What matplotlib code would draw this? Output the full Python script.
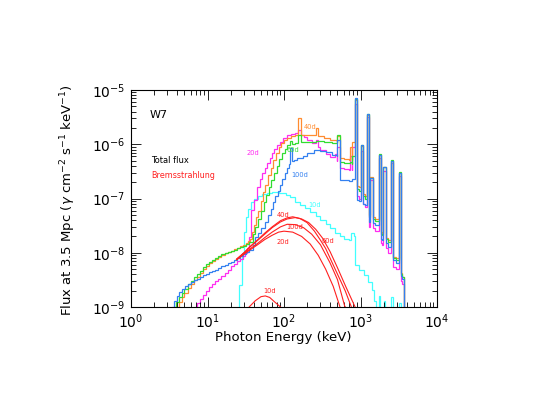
import matplotlib
matplotlib.use("Agg")
import matplotlib.pyplot as plt

plt.rcParams['font.family'] = ['DejaVu Sans']
plt.rcParams['mathtext.fontset'] = 'dejavusans'

# ---------------- data (energies in keV, flux in photons cm^-2 s^-1 keV^-1) -------------
# high-energy bin edges shared by the total-flux spectra (lines of 56Ni/56Co, 511 keV)
HE_EDGES = [490, 495, 535, 600, 700, 725, 775, 785, 835, 905, 950, 1000, 1080, 1150,
            1200, 1310, 1350, 1450, 1550, 1720, 1850, 1900, 1980, 2130, 2300, 2520,
            2700, 2900, 3150, 3380, 3500, 3700, 4000]

# 20 d total flux
e_20d_low = [6.0, 6.8, 7.4, 8.0, 8.7, 9.5, 10.5, 11.5, 12.6, 13.8, 15.2, 16.7, 18.3, 20, 22,
             24, 26.5, 29, 31, 33, 35, 36.5, 40, 44, 48, 52, 56, 60, 65, 70, 75, 81, 88, 97,
             110, 125, 140, 152, 165, 180, 200, 230, 262, 280, 300, 350, 400, 470]
f_20d_low = [5e-10, 1.0e-9, 1.2e-9, 1.4e-9, 1.65e-9, 1.95e-9, 2.3e-9, 2.65e-9, 3.0e-9, 3.35e-9,
             3.8e-9, 4.3e-9, 4.9e-9, 5.6e-9, 6.3e-9, 7.0e-9, 7.8e-9, 8.8e-9, 9.8e-9, 1.2e-8,
             1.95e-8, 6.1e-8, 9.4e-8, 1.6e-7, 2.3e-7, 2.9e-7, 3.6e-7, 4.5e-7, 5.6e-7, 6.9e-7,
             8.2e-7, 9.6e-7, 1.1e-6, 1.3e-6, 1.45e-6, 1.55e-6, 1.6e-6, 1.85e-6, 1.5e-6, 1.35e-6,
             1.22e-6, 1.05e-6, 1.2e-6, 9e-7, 7.8e-7, 6.6e-7, 5.8e-7, 6.5e-7]
f_20d_high = [5.0e-7, 9.0e-7, 3.7e-7, 3.5e-7, 3.4e-7, 6.0e-7, 3.4e-7, 9.0e-7, 5.5e-6, 1.1e-7,
              1.0e-7, 7.5e-7, 8.0e-8, 7.0e-8, 3.2e-6, 3.0e-8, 2.2e-7, 2.8e-8, 2.5e-8, 5.5e-7,
              1.5e-8, 1.4e-8, 3.2e-7, 1.2e-8, 1.0e-8, 4.5e-7, 5.5e-9, 5.0e-9, 2.6e-7, 3.0e-9,
              2.6e-9, 1e-10]

# 40 d total flux
e_40d_low = [3.5, 4.0, 4.3, 4.6, 5.0, 5.5, 6.0, 6.6, 7.2, 7.9, 8.7, 9.5, 10.5, 11.5, 12.6,
             13.8, 15.2, 16.7, 18.3, 20, 22, 24, 26.5, 29, 32, 34, 36, 38, 40, 43, 46, 50, 53,
             57, 62, 67, 72, 78, 85, 92, 100, 110, 125, 140, 152, 165, 200, 250, 262, 280,
             330, 400]
f_40d_low = [5e-10, 1.0e-9, 1.25e-9, 1.5e-9, 1.85e-9, 2.25e-9, 2.65e-9, 3.1e-9, 3.6e-9, 4.3e-9,
             5.0e-9, 5.7e-9, 6.4e-9, 7.1e-9, 7.8e-9, 8.5e-9, 9.1e-9, 9.8e-9, 1.04e-8, 1.1e-8,
             1.17e-8, 1.24e-8, 1.32e-8, 1.4e-8, 1.5e-8, 1.62e-8, 1.8e-8, 2.4e-8, 3.2e-8, 4.5e-8,
             6.0e-8, 9.0e-8, 1.3e-7, 1.8e-7, 2.7e-7, 3.7e-7, 5.2e-7, 7.0e-7, 8.8e-7, 1.05e-6,
             1.2e-6, 1.3e-6, 1.42e-6, 1.48e-6, 3.0e-6, 1.5e-6, 1.5e-6, 1.45e-6, 2.0e-6, 1.4e-6,
             1.3e-6, 1.18e-6]
f_40d_high = [1.08e-6, 1.4e-6, 5.6e-7, 5.4e-7, 5.2e-7, 9.0e-7, 5.2e-7, 1.1e-6, 6.6e-6, 1.7e-7,
              1.6e-7, 9.3e-7, 1.2e-7, 1.1e-7, 3.5e-6, 5.0e-8, 2.5e-7, 4.6e-8, 4.2e-8, 6.3e-7,
              2.4e-8, 2.3e-8, 3.8e-7, 1.9e-8, 1.7e-8, 5.0e-7, 8.5e-9, 8.0e-9, 3.0e-7, 4.2e-9,
              3.6e-9, 1e-10]

# 60 d total flux
e_60d_low = [3.0, 3.6, 3.9, 4.2, 4.6, 5.0, 5.5, 6.0, 6.6, 7.2, 7.9, 8.7, 9.5, 10.5, 11.5, 12.6,
             13.8, 15.2, 16.7, 18.3, 20, 22, 24, 26.5, 29, 32, 35, 39, 42, 46, 50, 54, 58, 63,
             68, 74, 80, 87, 94, 102, 110, 119, 126, 140, 152, 165, 200, 260, 330, 420]
f_60d_low = [5e-10, 1.0e-9, 1.25e-9, 1.5e-9, 1.8e-9, 2.15e-9, 2.6e-9, 3.0e-9, 3.5e-9, 4.0e-9,
             4.6e-9, 5.4e-9, 6.1e-9, 6.8e-9, 7.5e-9, 8.1e-9, 8.7e-9, 9.3e-9, 9.9e-9, 1.04e-8,
             1.08e-8, 1.13e-8, 1.2e-8, 1.27e-8, 1.35e-8, 1.46e-8, 1.6e-8, 2.2e-8, 3.0e-8, 4.2e-8,
             6.0e-8, 8.5e-8, 1.15e-7, 1.6e-7, 2.2e-7, 3.0e-7, 4.0e-7, 5.3e-7, 6.8e-7, 8.3e-7,
             9.5e-7, 1.15e-6, 1.0e-6, 1.05e-6, 1.5e-6, 1.1e-6, 1.12e-6, 1.15e-6, 1.12e-6, 1.07e-6]
f_60d_high = [1.05e-6, 1.45e-6, 4.8e-7, 4.6e-7, 4.5e-7, 4.8e-7, 4.4e-7, 6.0e-7, 6.9e-6, 1.5e-7,
              1.4e-7, 9.5e-7, 1.1e-7, 1.0e-7, 3.6e-6, 4.5e-8, 2.4e-7, 4.2e-8, 3.8e-8, 6.5e-7,
              2.2e-8, 2.1e-8, 3.8e-7, 1.8e-8, 1.6e-8, 5.2e-7, 8.0e-9, 7.5e-9, 3.1e-7, 4.0e-9,
              3.5e-9, 1e-10]

# 100 d total flux
e_100d_low = [3.0, 3.4, 3.7, 4.0, 4.3, 4.7, 5.1, 5.6, 6.1, 6.7, 7.3, 8.0, 8.8, 9.6, 10.5, 11.5,
              12.6, 13.8, 15.2, 16.7, 18.3, 20, 22, 24, 26.5, 29, 32, 35, 39, 42, 46, 50, 56,
              62, 67, 72, 77, 83, 89, 95, 102, 109, 116, 119, 126, 135, 150, 175, 200, 250,
              300, 350, 420]
f_100d_low = [5e-10, 1.0e-9, 1.3e-9, 1.6e-9, 1.9e-9, 2.15e-9, 2.4e-9, 2.65e-9, 2.9e-9, 3.15e-9,
              3.35e-9, 3.6e-9, 3.85e-9, 4.1e-9, 4.35e-9, 4.6e-9, 4.9e-9, 5.2e-9, 5.6e-9, 6.0e-9,
              6.4e-9, 6.8e-9, 7.3e-9, 7.9e-9, 8.6e-9, 9.4e-9, 1.03e-8, 1.12e-8, 1.4e-8, 1.95e-8,
              2.3e-8, 2.8e-8, 3.7e-8, 4.9e-8, 6.5e-8, 8.5e-8, 1.1e-7, 1.4e-7, 1.8e-7, 2.3e-7,
              2.9e-7, 3.6e-7, 4.4e-7, 8.5e-7, 5.0e-7, 5.2e-7, 5.5e-7, 6.2e-7, 7.0e-7, 7.8e-7,
              7.6e-7, 7.2e-7, 6.4e-7]
f_100d_high = [6.0e-7, 1.2e-6, 2.2e-7, 2.2e-7, 2.1e-7, 2.1e-7, 2.1e-7, 2.3e-7, 7.1e-6, 9.5e-8,
               9.0e-8, 9.5e-7, 8.0e-8, 7.5e-8, 3.6e-6, 3.7e-8, 2.4e-7, 3.5e-8, 3.3e-8, 6.3e-7,
               1.8e-8, 1.7e-8, 3.8e-7, 1.5e-8, 1.3e-8, 5.0e-7, 7.5e-9, 6.5e-9, 3.0e-7, 3.8e-9,
               3.3e-9, 1e-10]

# 10 d total flux (bin edges and bin values)
e_10d = [24, 26, 28, 30, 32, 34, 37, 41, 46, 52, 60, 70, 85, 105, 120, 140, 160, 190, 220,
         260, 300, 350, 400, 460, 540, 600, 700, 760, 820, 850, 950, 1100, 1250, 1400, 1500,
         1600, 1750, 1800, 2000, 2100, 2500, 2700, 3200, 3350, 3600]
f_10d = [1e-10, 2.5e-9, 1.0e-8, 2.4e-8, 4.5e-8, 6.5e-8, 8.5e-8, 1.0e-7, 1.1e-7, 1.2e-7,
         1.27e-7, 1.3e-7, 1.28e-7, 1.15e-7, 1.05e-7, 8.6e-8, 7.6e-8, 6.7e-8, 5.6e-8, 4.8e-8,
         4.0e-8, 3.4e-8, 2.8e-8, 2.3e-8, 2.0e-8, 1.8e-8, 1.7e-8, 2.3e-8, 2.0e-8, 5.9e-9,
         4.8e-9, 3.9e-9, 2.9e-9, 2.06e-9, 1.3e-9, 1e-10, 1.6e-9, 1e-10, 1.3e-9, 1e-10,
         1.5e-9, 1e-10, 1.2e-9, 1e-10]

# Bremsstrahlung components
br_e_10d = [30, 35, 42, 50, 57, 65, 75, 90, 100]
br_f_10d = [7e-10, 1.0e-9, 1.3e-9, 1.55e-9, 1.6e-9, 1.5e-9, 1.25e-9, 1.0e-9, 8e-10]
br_e_20d = [24, 30, 36, 45, 56, 70, 85, 100, 130, 170, 220, 280, 350, 440, 540, 600]
br_f_20d = [7.4e-9, 9.4e-9, 1.13e-8, 1.4e-8, 1.75e-8, 2.1e-8, 2.4e-8, 2.5e-8, 2.4e-8,
            2.0e-8, 1.45e-8, 9e-9, 5e-9, 2.4e-9, 1.0e-9, 7e-10]
br_e_40d = [24, 30, 36, 45, 56, 70, 90, 110, 130, 160, 200, 250, 300, 350, 460, 630, 760, 850]
br_f_40d = [7.6e-9, 1.0e-8, 1.3e-8, 1.72e-8, 2.3e-8, 3.0e-8, 3.9e-8, 4.4e-8, 4.6e-8,
            4.3e-8, 3.6e-8, 2.5e-8, 1.7e-8, 1.2e-8, 5.2e-9, 2.0e-9, 1.0e-9, 6e-10]
br_e_60d = [24, 30, 36, 45, 56, 70, 90, 110, 140, 170, 210, 260, 320, 400, 500, 640, 850, 950]
br_f_60d = [7.6e-9, 1.0e-8, 1.28e-8, 1.68e-8, 2.2e-8, 2.9e-8, 3.7e-8, 4.2e-8, 4.45e-8,
            4.2e-8, 3.6e-8, 2.7e-8, 1.85e-8, 1.05e-8, 5.3e-9, 2.4e-9, 1.0e-9, 7e-10]
br_e_100d = [24, 30, 36, 45, 56, 70, 90, 110, 140, 180, 230, 300, 400, 500, 620, 700]
br_f_100d = [7.5e-9, 9.6e-9, 1.18e-8, 1.48e-8, 1.9e-8, 2.4e-8, 3.0e-8, 3.35e-8, 3.3e-8,
             2.9e-8, 2.2e-8, 1.4e-8, 6.5e-9, 3.2e-9, 1.05e-9, 8e-10]

# colours
C_MAG = '#ff2cf0'
C_ORA = '#ff8c30'
C_GRN = '#30dd30'
C_BLU = '#3380f0'
C_CYA = '#40ffff'
C_RED = '#ff2020'

# ---------------- figure -------------------------------------------------------------
fig = plt.figure(figsize=(5.33, 4.12), dpi=100)
ax = fig.add_axes([131 / 533, 105 / 412, 306 / 533, 217 / 412])
ax.set_xscale('log')
ax.set_yscale('log')
ax.set_xlim(1, 1e4)
ax.set_ylim(1e-9, 1e-5)

LW = 0.9
ax.stairs(f_10d, e_10d, baseline=None, color=C_CYA, lw=LW)
for low_e, low_f, high_f, col in [(e_20d_low, f_20d_low, f_20d_high, C_MAG),
                                  (e_40d_low, f_40d_low, f_40d_high, C_ORA),
                                  (e_60d_low, f_60d_low, f_60d_high, C_GRN),
                                  (e_100d_low, f_100d_low, f_100d_high, C_BLU)]:
    ax.stairs(low_f + high_f, low_e + HE_EDGES, baseline=None, color=col, lw=LW)

for be, bf in [(br_e_10d, br_f_10d), (br_e_20d, br_f_20d), (br_e_40d, br_f_40d),
               (br_e_60d, br_f_60d), (br_e_100d, br_f_100d)]:
    ax.plot(be, bf, color=C_RED, lw=0.8)

# ticks & frame
ax.tick_params(which='both', direction='in', top=True, right=True, width=0.6,
               labelsize=10)
ax.tick_params(which='major', length=7, pad=4)
ax.tick_params(which='minor', length=3.5)
for s in ax.spines.values():
    s.set_linewidth(0.8)

# labels
fig.text(283 / 533, 1 - 337 / 412, 'Photon Energy (keV)', ha='center', va='center',
         fontsize=9.5)
fig.text(68 / 533, 1 - 200 / 412,
         r'Flux at 3.5 Mpc ($\gamma$ cm$^{-2}$ s$^{-1}$ keV$^{-1}$)',
         ha='center', va='center', rotation=90, fontsize=9.5)

ax.text(0.062, 0.885, 'W7', transform=ax.transAxes, ha='left', va='center', fontsize=8)
ax.text(0.066, 0.677, 'Total flux', transform=ax.transAxes, ha='left', va='center',
        fontsize=6, color='black')
ax.text(0.066, 0.608, 'Bremsstrahlung', transform=ax.transAxes, ha='left', va='center',
        fontsize=5.8, color=C_RED)

lab = dict(transform=ax.transAxes, ha='center', va='center', fontsize=4.8)
ax.text(0.399, 0.710, '20d', color=C_MAG, **lab)
ax.text(0.585, 0.829, '40d', color=C_ORA, **lab)
ax.text(0.529, 0.724, '60d', color=C_GRN, **lab)
ax.text(0.552, 0.608, '100d', color=C_BLU, **lab)
ax.text(0.601, 0.470, '10d', color=C_CYA, **lab)
ax.text(0.497, 0.424, '40d', color=C_RED, **lab)
ax.text(0.536, 0.369, '100d', color=C_RED, **lab)
ax.text(0.497, 0.300, '20d', color=C_RED, **lab)
ax.text(0.644, 0.304, '60d', color=C_RED, **lab)
ax.text(0.454, 0.074, '10d', color=C_RED, **lab)

fig.savefig('out.png', dpi=100)
